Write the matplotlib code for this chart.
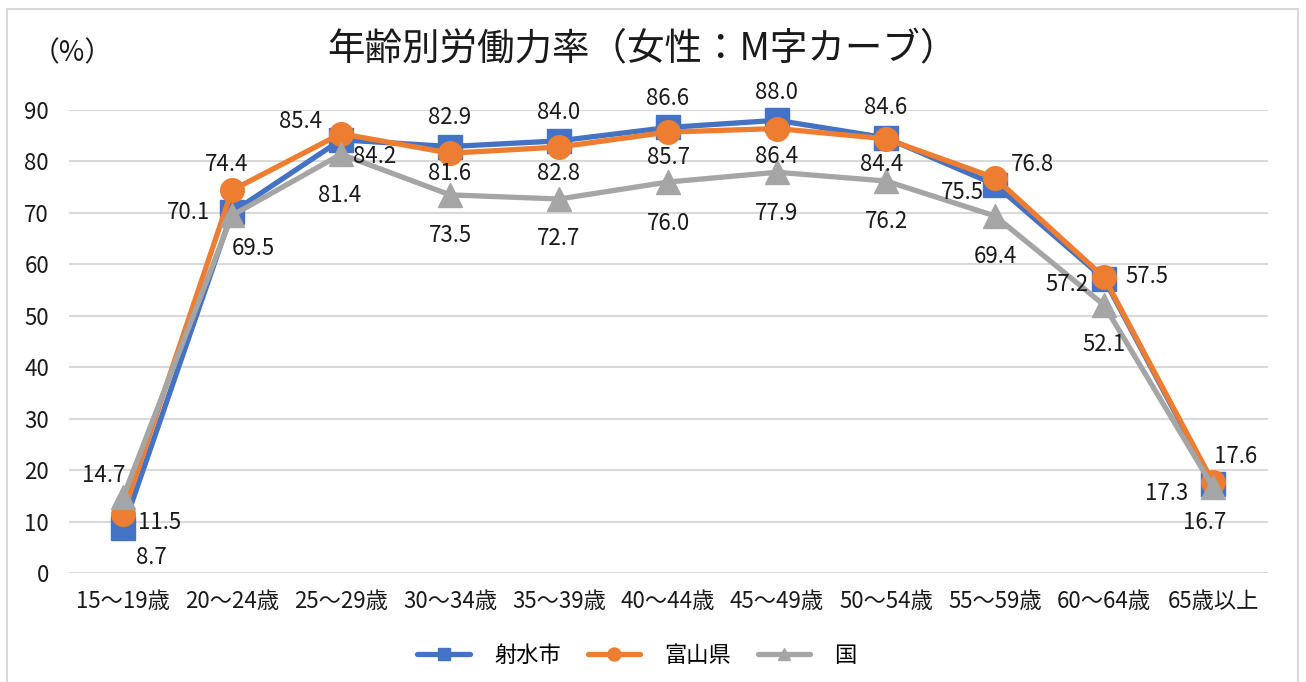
import matplotlib.pyplot as plt
from matplotlib.patches import Rectangle

plt.rcParams['font.family'] = ['Noto Sans CJK JP', 'DejaVu Sans']

# data
categories = ['15～19歳', '20～24歳', '25～29歳', '30～34歳', '35～39歳', '40～44歳',
              '45～49歳', '50～54歳', '55～59歳', '60～64歳', '65歳以上']
imizu = [8.7, 70.1, 84.2, 82.9, 84.0, 86.6, 88.0, 84.6, 75.5, 57.2, 17.3]
toyama = [11.5, 74.4, 85.4, 81.6, 82.8, 85.7, 86.4, 84.4, 76.8, 57.5, 17.6]
japan = [14.7, 69.5, 81.4, 73.5, 72.7, 76.0, 77.9, 76.2, 69.4, 52.1, 16.7]
series_names = ['射水市', '富山県', '国']

# label offsets in pixels (dx right, dy down) from each marker
off_imizu = [(28, 29), (-44, 0), (34, 17), (0, -29), (0, -28), (0, -29), (0, -28),
             (0, -30), (-33, 8), (-37, 6), (-46, 9)]
off_toyama = [(37, 9), (-5, -26), (-40, -12), (0, 20), (0, 26), (0, 25), (0, 28),
              (-4, 26), (37, -13), (43, -1), (23, -26)]
off_japan = [(-19, -22), (21, 33), (-1, 41), (0, 41), (0, 40), (0, 41), (0, 41),
             (0, 41), (0, 41), (0, 40), (-8, 35)]

colors = ['#4472C4', '#ED7D31', '#A5A5A5']
markers = ['s', 'o', '^']

fig = plt.figure(figsize=(13.06, 6.82), dpi=100)
fig.patches.append(Rectangle((7 / 1306, -0.01), 1291 / 1306, 1 - 9 / 682 + 0.01,
                             transform=fig.transFigure, fill=False,
                             edgecolor='#D9D9D9', linewidth=1.5))
ax = fig.add_axes([68.5 / 1306, 109 / 682, 1199 / 1306, 463 / 682])

x = list(range(len(categories)))
for vals, offs, name, c, m in zip([imizu, toyama, japan],
                                  [off_imizu, off_toyama, off_japan],
                                  series_names, colors, markers):
    ax.plot(x, vals, color=c, marker=m, markersize=17, linewidth=3.8,
            label=name, clip_on=False, zorder=3, solid_capstyle='round')
    for xi, v, (dx, dy) in zip(x, vals, offs):
        ax.annotate(f'{v:.1f}', (xi, v), xytext=(dx * 0.72, -dy * 0.72),
                    textcoords='offset points', ha='center', va='center',
                    fontsize=16, color='#1a1a1a', zorder=5, annotation_clip=False)

ax.set_xlim(-0.5, len(categories) - 0.5)
ax.set_ylim(0, 90)
ax.set_yticks(range(0, 91, 10))
ax.set_xticks(x)
ax.set_xticklabels(categories)
ax.yaxis.grid(True, color='#D9D9D9', linewidth=1.5)
ax.set_axisbelow(True)
for s in ax.spines.values():
    s.set_visible(False)
ax.tick_params(length=0, labelsize=16, colors='#1a1a1a')
ax.tick_params(axis='x', pad=12)
ax.tick_params(axis='y', pad=14)

fig.text(642 / 1306, 1 - 50 / 682, '年齢別労働力率（女性：M字カーブ）', ha='center',
         va='center', fontsize=27, color='#1a1a1a')
fig.text(72 / 1306, 1 - 53 / 682, '（%）', ha='center', va='center', fontsize=20,
         color='#1a1a1a')

ax.legend(loc='center', bbox_to_anchor=(637 / 1306, 1 - 655 / 682),
          bbox_transform=fig.transFigure, ncol=3, frameon=False, fontsize=16,
          handlelength=2.35, columnspacing=1.2, handletextpad=1.1, markerscale=0.55)

fig.savefig('out.png', dpi=100)
